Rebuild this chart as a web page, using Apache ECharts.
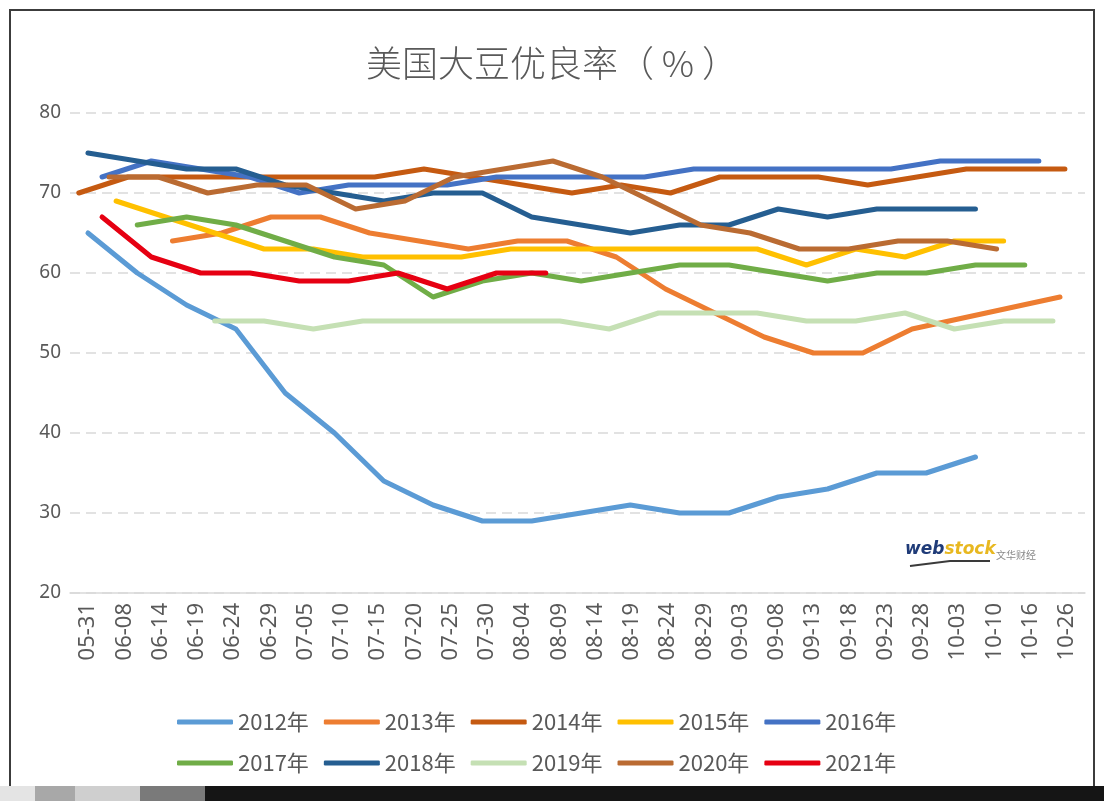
<!DOCTYPE html>
<html>
<head>
<meta charset="utf-8">
<title>美国大豆优良率</title>
<script src="https://cdn.jsdelivr.net/npm/echarts@6/dist/echarts.min.js"></script>
<style>
  html, body { margin: 0; padding: 0; background: #fff; }
  #wrap { position: relative; width: 1104px; height: 801px; overflow: hidden; }
  #chart { position: absolute; left: 0; top: 0; width: 1104px; height: 801px; }
  #frame { position: absolute; left: 9px; top: 9px; width: 1086px; height: 790px;
    border: 2px solid #3c3c3c; border-bottom: none; box-sizing: border-box; pointer-events: none; }
  #strip { position: absolute; left: 0; top: 786px; width: 1104px; height: 15px;
    background: linear-gradient(to right, #e4e4e4 0, #e4e4e4 35px, #a8a8a8 35px, #a8a8a8 75px,
      #cfcfcf 75px, #cfcfcf 140px, #7a7a7a 140px, #7a7a7a 205px, #151515 205px, #151515 1104px); }
</style>
</head>
<body>
<div id="wrap">
  <div id="chart"></div>
  <div id="frame"></div>
  <div id="strip"></div>
</div>
<script>
// 横轴标签
const categories = ['05-31', '06-08', '06-14', '06-19', '06-24', '06-29', '07-05', '07-10', '07-15', '07-20',
  '07-25', '07-30', '08-04', '08-09', '08-14', '08-19', '08-24', '08-29', '09-03', '09-08',
  '09-13', '09-18', '09-23', '09-28', '10-03', '10-10', '10-16', '10-26']

const years = ['2012年', '2013年', '2014年', '2015年', '2016年', '2017年', '2018年', '2019年', '2020年', '2021年']
const colors = ['#5B9BD5', '#ED7D31', '#C55A11', '#FFC000', '#4472C4', '#70AD47', '#255E91', '#C5E0B4', '#BA6B32', '#E60012']

// 每年第一期周报相对首个刻度的天数（之后每7天一期）
const startDay = [0, 12, -1.3, 4, 2, 7, 0, 18, 3, 2]

// 每周优良率（%）
const y2012 = [65, 60, 56, 53, 45, 40, 34, 31, 29, 29, 30, 31, 30, 30, 32, 33, 35, 35, 37]
const y2013 = [64, 65, 67, 67, 65, 64, 63, 64, 64, 62, 58, 55, 52, 50, 50, 53, null, null, 57]
const y2014 = [70, 72, 72, 72, 72, 72, 72, 73, 72, 71, 70, 71, 70, 72, 72, 72, 71, 72, 73, 73, 73]
const y2015 = [69, 67, 65, 63, 63, 62, 62, 62, 63, 63, 63, 63, 63, 63, 61, 63, 62, 64, 64]
const y2016 = [72, 74, 73, 72, 70, 71, 71, 71, 72, 72, 72, 72, 73, 73, 73, 73, 73, 74, 74, 74]
const y2017 = [66, 67, 66, 64, 62, 61, 57, 59, 60, 59, 60, 61, 61, 60, 59, 60, 60, 61, 61]
const y2018 = [75, 74, 73, 73, 71, 70, 69, 70, 70, 67, 66, 65, 66, 66, 68, 67, 68, 68, 68]
const y2019 = [54, 54, 53, 54, 54, 54, 54, 54, 53, 55, 55, 55, 54, 54, 55, 53, 54, 54]
const y2020 = [72, 72, 70, 71, 71, 68, 69, 72, 73, 74, 72, 69, 66, 65, 63, 63, 64, 64, 63]
const y2021 = [67, 62, 60, 60, 59, 59, 60, 58, 60, 60]

const values = [y2012, y2013, y2014, y2015, y2016, y2017, y2018, y2019, y2020, y2021]

const txtColor = '#595959'
const myChart = echarts.init(document.getElementById('chart'))

const series = years.map((name, k) => ({
  name: name,
  type: 'line',
  xAxisIndex: 1,
  yAxisIndex: 0,
  data: values[k].map((v, i) => [startDay[k] + 7 * i, v]),
  connectNulls: true,
  symbol: 'none',
  silent: true,
  lineStyle: {
    width: 5,
    color: colors[k],
    cap: 'round',
    join: 'round',
  },
  itemStyle: { color: colors[k] },
}))

const legendBase = {
  left: 172,
  icon: 'roundRect',
  itemWidth: 56,
  itemHeight: 5,
  itemGap: 15,
  itemTextGap: 8,
  selectedMode: false,
  textStyle: {
    color: txtColor,
    fontSize: 22,
    fontFamily: 'Noto Sans CJK SC',
    width: 80,
  },
}

myChart.setOption({
  animation: false,
  backgroundColor: '#fff',
  title: {
    text: '美国大豆优良率（ % ）',
    left: 'center',
    top: 40,
    textStyle: {
      color: txtColor,
      fontSize: 36,
      fontWeight: 300,
      fontFamily: 'Noto Sans CJK SC',
    },
  },
  legend: [
    Object.assign({}, legendBase, { top: 706, data: years.slice(0, 5) }),
    Object.assign({}, legendBase, { top: 747, data: years.slice(5) }),
  ],
  grid: {
    left: 70,
    right: 19,
    top: 113,
    bottom: 208,
  },
  xAxis: [
    {
      type: 'category',
      data: categories,
      boundaryGap: true,
      axisLine: { lineStyle: { color: '#d9d9d9', width: 1.5 } },
      axisTick: { show: false },
      axisLabel: {
        rotate: 90,
        interval: 0,
        margin: 10,
        color: txtColor,
        fontSize: 22,
        fontFamily: 'Noto Sans',
      },
    },
    {
      // 隐藏的按天数刻度，用来放每周数据
      type: 'value',
      show: false,
      min: -2.55,
      max: 141.55,
    },
  ],
  yAxis: {
    type: 'value',
    min: 20,
    max: 80,
    interval: 10,
    axisLine: { show: false },
    axisTick: { show: false },
    axisLabel: {
      color: txtColor,
      fontSize: 19,
      fontFamily: 'Noto Sans',
      margin: 9,
    },
    splitLine: {
      lineStyle: {
        color: '#d9d9d9',
        width: 1.5,
        type: [10, 6],
      },
    },
  },
  graphic: [
    {
      type: 'text',
      left: 905,
      top: 541,
      style: {
        text: '{a|web}{b|stock}',
        rich: {
          a: { fill: '#1f3b78', fontSize: 17, fontWeight: 'bold', fontStyle: 'italic', fontFamily: 'DejaVu Sans' },
          b: { fill: '#e8b820', fontSize: 17, fontWeight: 'bold', fontStyle: 'italic', fontFamily: 'DejaVu Sans' },
        },
      },
    },
    {
      type: 'polyline',
      shape: { points: [[910, 566], [950, 561], [990, 561]] },
      style: { stroke: '#3a3a3a', lineWidth: 2, fill: null },
    },
    {
      type: 'text',
      left: 996,
      top: 550,
      style: {
        text: '文华财经',
        fill: '#8a8a8a',
        fontSize: 10,
        fontFamily: 'Noto Sans CJK SC',
      },
    },
  ],
  series: series,
})
</script>
</body>
</html>
